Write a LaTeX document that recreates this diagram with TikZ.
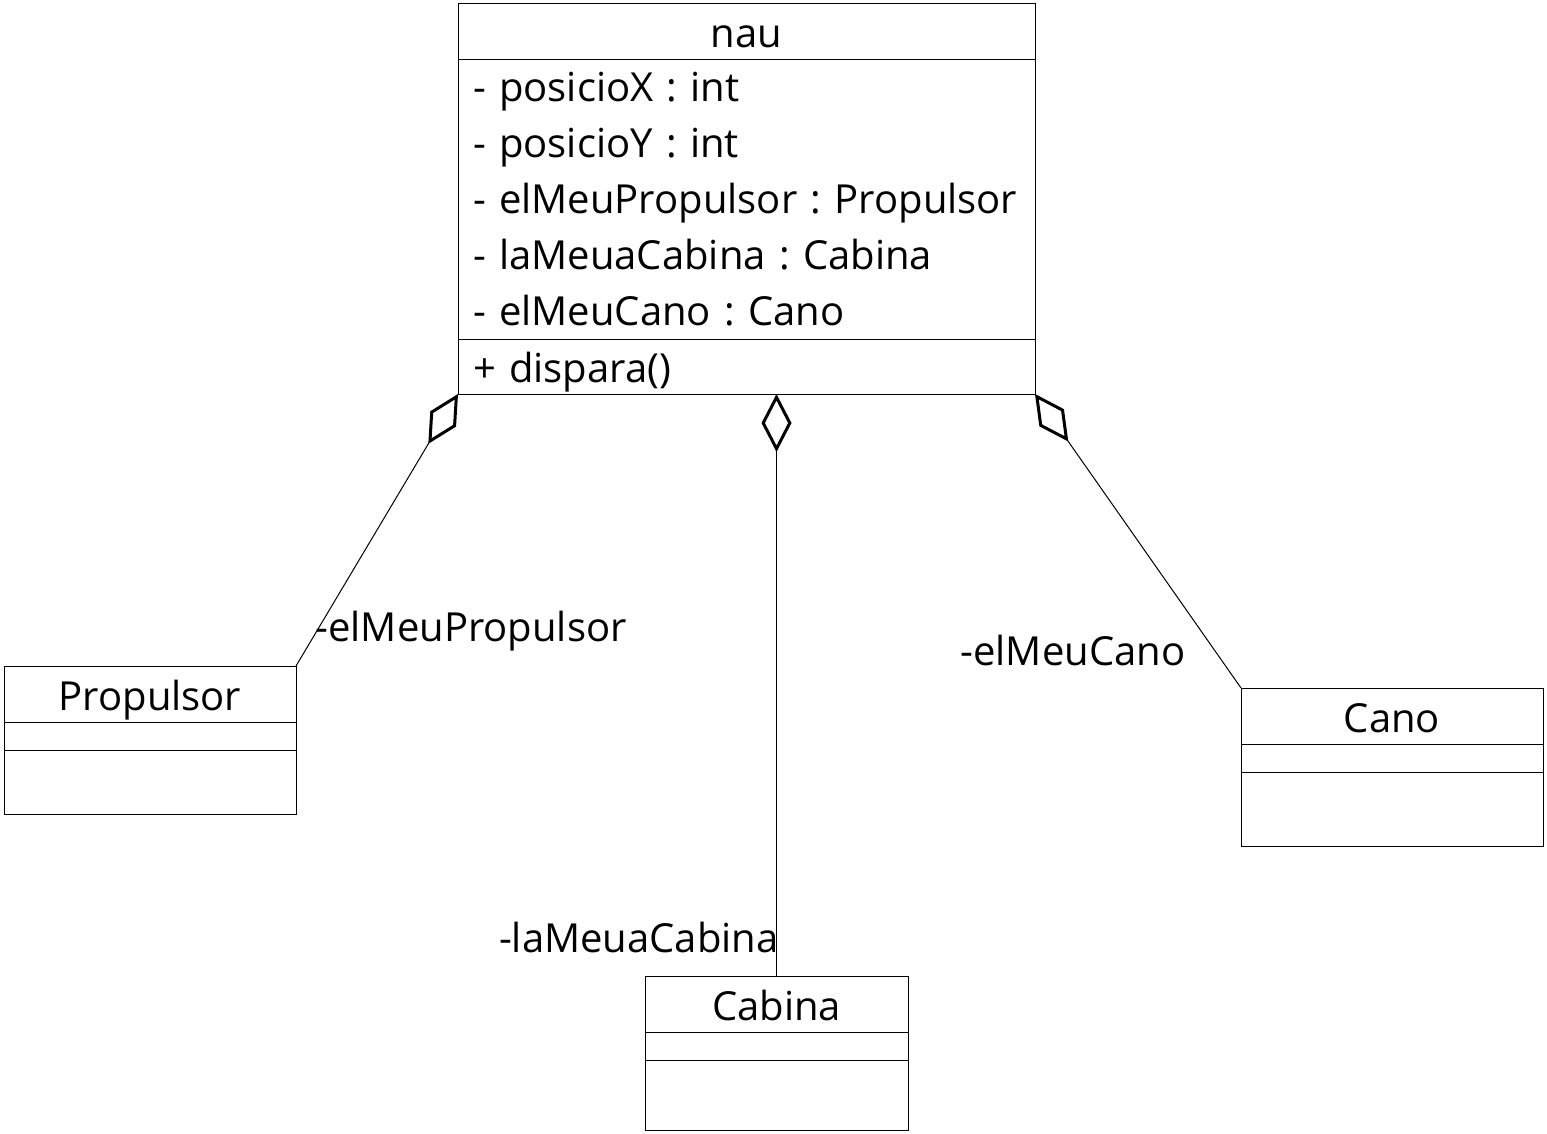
\documentclass[tikz,border=0pt]{standalone}
\usepackage{fontspec}
\setmainfont{Open Sans}
\usetikzlibrary{positioning,arrows.meta}

\begin{document}
\begin{tikzpicture}[
x=0.5pt, y=-0.5pt,
line width=0.5pt,
umlfont/.style={
    font=\fontsize{20}{28}\selectfont\frenchspacing
    },
cpart/.style={
    draw,
    rectangle,
    inner sep=0pt,
    outer sep=0pt,
    umlfont
    },
chead/.style={
    cpart,
    minimum height=28pt,
    text height=17pt,
    text depth=1pt
    },
cbody/.style={
    cpart,
    inner xsep=7.5pt,
    align=left
    },
role/.style={
    umlfont,
    inner sep=0pt
    },
aggr/.style={
    -{Diamond[open, length=29pt, width=15pt, line width=1.5pt]}
    },
]
\useasboundingbox (0,0) rectangle (1547,1134);

% nau
\node[chead, minimum width=288.5pt, anchor=north west] (nau) at (458,4) {nau};
\node[cbody, text width=273.5pt, minimum height=139.5pt, below=0pt of nau] (nauattr)
    {- posicioX : int\\- posicioY : int\\- elMeuPropulsor : Propulsor\\- laMeuaCabina : Cabina\\- elMeuCano : Cano};
\node[cbody, text width=273.5pt, minimum height=27.5pt, text height=17pt, text depth=1pt, below=0pt of nauattr] (nauops) {+ dispara()};

% Propulsor
\node[chead, minimum width=146pt, anchor=north west] (prop) at (4,666) {Propulsor};
\node[cpart, minimum width=146pt, minimum height=14pt, below=0pt of prop] (propattr) {};
\node[cpart, minimum width=146pt, minimum height=32pt, below=0pt of propattr] (propops) {};

% Cabina
\node[chead, minimum width=131.5pt, anchor=north west] (cabina) at (645,976) {Cabina};
\node[cpart, minimum width=131.5pt, minimum height=14pt, below=0pt of cabina] (cabinaattr) {};
\node[cpart, minimum width=131.5pt, minimum height=35pt, below=0pt of cabinaattr] (cabinaops) {};

% Cano
\node[chead, minimum width=151pt, anchor=north west] (cano) at (1241,688) {Cano};
\node[cpart, minimum width=151pt, minimum height=14pt, below=0pt of cano] (canoattr) {};
\node[cpart, minimum width=151pt, minimum height=37pt, below=0pt of canoattr] (canoops) {};

% agregacions
\draw[aggr] (prop.north east) -- (nauops.south west);
\draw[aggr] (cabina.north) -- (cabina.north |- nauops.south);
\draw[aggr] (cano.north west) -- (nauops.south east);

% rols
\node[role, anchor=west] (proprole) at (315,631) {-elMeuPropulsor};
\node[role, anchor=west] (canorole) at (960,650) {-elMeuCano};
\node[role, anchor=east] (cabinarole) at (779,937) {-laMeuaCabina};
\end{tikzpicture}
\end{document}
